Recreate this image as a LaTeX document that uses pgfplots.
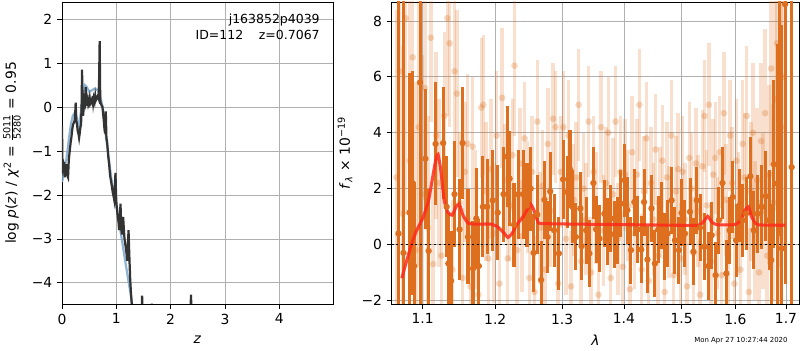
\documentclass[border=0pt]{standalone}
\usepackage{amsmath}
\usepackage{fontspec}
\setmainfont{DejaVu Sans}
\usepackage{pgfplots}
\pgfplotsset{compat=1.18}
\definecolor{dkor}{HTML}{DD6F1E}
\definecolor{redm}{HTML}{FF2A1A}
\definecolor{gridc}{HTML}{B0B0B0}
\definecolor{dline}{HTML}{333333}
\definecolor{bline}{HTML}{7DA7CB}
\pgfplotsset{mpl/.style={scale only axis, axis line style={line width=0.6pt}, tick align=outside,
  major tick length=3.5pt, tick style={black, line width=0.6pt}, xtick pos=left, ytick pos=left,
  grid=major, grid style={gridc, line width=0.6pt},
  tick label style={font=\fontsize{10}{12}\selectfont}, label style={font=\fontsize{10}{12}\selectfont}}}
\begin{document}
\begin{tikzpicture}
\useasboundingbox (0,0) rectangle (576pt,252pt);
\begin{axis}[mpl, at={(44.64pt,33.12pt)}, anchor=south west, width=195.12pt, height=217.44pt,
  xmin=0, xmax=4.99, ymin=-4.48, ymax=2.39,
  xtick={0,1,2,3,4}, xticklabels={0,1,2,3,4},
  ytick={-4,-3,-2,-1,0,1,2}, yticklabels={−4,−3,−2,−1,0,1,2},
  xlabel={\textit{z}}, xlabel style={at={(axis description cs:0.5,-0.119)}, anchor=center},
  ylabel={log \textit{p}(\textit{z}) / \textit{χ}\textsuperscript{2} = $\frac{\text{5011}}{\text{5280}}$ = 0.95},
  ylabel style={at={(axis description cs:-0.1845,0.5)}, anchor=center}]
\addplot[bline, line width=1.6pt, opacity=0.85] coordinates {
(0,-1.7) (0.02,-1.6) (0.05,-1.35) (0.08,-1.2) (0.11,-0.9) (0.14,-0.6) (0.17,-0.35) (0.2,-0.2) (0.25,-0.1) (0.28,-0.3) (0.31,-0.5) (0.34,-0.2) (0.38,0.3) (0.42,0.5) (0.46,0.45) (0.5,0.35) (0.55,0.38) (0.6,0.42) (0.66,0.38) (0.69,0.3) (0.72,0.15) (0.75,0.0) (0.78,-0.3) (0.8,-0.6) (0.84,-0.95) (0.87,-1.25) (0.9,-1.55) (0.93,-1.8) (0.97,-2.05) (1.0,-2.25) (1.04,-2.55) (1.08,-2.85) (1.12,-3.15) (1.15,-3.4) (1.19,-3.7) (1.23,-4.0) (1.27,-4.3) (1.3,-4.6) (1.4,-5.5) (5,-5.5)};
\addplot[dline, line width=1.6pt] coordinates {
(0,-0.44) (0.006,-1.1) (0.012,-1.5) (0.018,-1.2) (0.03,-1.45) (0.04,-1.25) (0.049,-1.6) (0.06,-1.3) (0.07,-1.5) (0.08,-1.3) (0.095,-1.55) (0.111,-1.6) (0.125,-1.2) (0.142,-1.0) (0.16,-0.8) (0.172,-0.7) (0.19,-0.5) (0.203,-0.4) (0.22,-0.35) (0.234,-0.3) (0.245,-0.1) (0.252,0.1) (0.262,-0.3) (0.277,-0.4) (0.29,-0.55) (0.302,-0.6) (0.315,-0.7) (0.326,-0.6) (0.34,-0.45) (0.351,-0.4) (0.362,0.1) (0.369,0.85) (0.378,0.2) (0.388,-0.2) (0.398,-0.05) (0.406,0.0) (0.415,0.15) (0.425,0.1) (0.437,0.45) (0.45,0.05) (0.462,0.05) (0.475,0.15) (0.485,0.05) (0.498,0.1) (0.51,0.2) (0.52,0.08) (0.542,0.15) (0.555,0.1) (0.565,0.25) (0.575,0.1) (0.585,0.2) (0.6,0.12) (0.612,0.25) (0.622,0.15) (0.64,0.2) (0.658,0.25) (0.672,0.2) (0.683,0.6) (0.6935,1.5) (0.703,0.3) (0.708,0.1) (0.725,0.05) (0.745,0.0) (0.757,-0.15) (0.769,-0.3) (0.782,-0.5) (0.794,-0.6) (0.806,-0.1) (0.818,-0.7) (0.831,-0.8) (0.85,-1.1) (0.868,-1.3) (0.885,-1.55) (0.905,-1.7) (0.918,-1.8) (0.929,-1.9) (0.945,-2.0) (0.96,-2.1) (0.972,-1.8) (0.985,-1.5) (0.995,-2.0) (1.003,-2.2) (1.015,-2.35) (1.028,-2.5) (1.04,-2.6) (1.052,-2.8) (1.065,-2.6) (1.077,-2.2) (1.09,-2.7) (1.102,-2.9) (1.115,-2.7) (1.126,-2.5) (1.14,-2.8) (1.151,-3.0) (1.163,-3.1) (1.175,-3.2) (1.19,-3.35) (1.2,-3.5) (1.212,-3.2) (1.225,-2.8) (1.235,-3.2) (1.243,-3.5) (1.255,-3.9) (1.268,-4.2) (1.28,-4.4) (1.292,-4.6) (1.3,-5) (1.46,-5) (1.475,-4.29) (1.49,-5) (1.64,-5) (1.652,-4.47) (1.664,-5) (2.36,-5) (2.375,-4.27) (2.392,-5) (5,-5)};
\node[anchor=east, font=\fontsize{9}{11}\selectfont, inner sep=0pt] at (rel axis cs:0.952,0.94) {j163852p4039};
\node[anchor=east, font=\fontsize{9}{11}\selectfont, inner sep=0pt] at (rel axis cs:0.952,0.89) {ID=112\hspace{1.25em}z=0.7067};
\end{axis}
\begin{axis}[mpl, at={(282.02pt,33.12pt)}, anchor=south west, width=293.47pt, height=217.44pt,
  xmode=log, xmin=1.06, xmax=1.7273, ymin=-2.13, ymax=8.68,
  xtick={1.1,1.2,1.3,1.4,1.5,1.6,1.7}, xticklabels={1.1,1.2,1.3,1.4,1.5,1.6,1.7},
  ytick={-2,0,2,4,6,8}, yticklabels={−2,0,2,4,6,8},
  xlabel={\textit{λ}}, xlabel style={at={(axis description cs:0.5,-0.119)}, anchor=center},
  ylabel={\textit{f}\textsubscript{\textit{λ}} × 10\textsuperscript{−19}},
  ylabel style={at={(axis description cs:-0.1146,0.5)}, anchor=center}]
% light (lower weight) spectrum
\addplot[only marks, mark=*, mark size=2.4pt, dkor, mark options={draw opacity=0, fill opacity=0.28},
  error bars/.cd, y dir=both, y explicit, error mark=none,
  error bar style={line width=2.5pt, dkor, opacity=0.22}]
  table[x=x, y=y, y error=e] {
x y e
1.066 2.4 6
1.070 6.2 5
1.074 1.1 6
1.078 8.1 7
1.083 3.0 6
1.087 6.7 5
1.091 -0.2 6
1.095 4.2 5
1.099 1.8 5
1.103 5.6 4
1.107 0.6 4
1.111 7.4 3
1.114 -0.7 3
1.118 3.9 3
1.122 2.2 3
1.125 -0.4 3
1.129 4.6 3
1.133 8.1 3.5
1.136 7.2 3
1.140 -0.9 2.5
1.143 6.2 3
1.146 5.4 3
1.150 1.5 2.5
1.154 -1.2 2.5
1.157 2.6 2.5
1.161 3.6 2.5
1.165 -1.5 2.5
1.168 3.5 2.5
1.172 0.9 2.5
1.176 -1.8 2.5
1.180 4.9 2.5
1.183 5.0 2.5
1.187 1.9 2.5
1.190 -0.5 2.5
1.194 2.7 2.5
1.198 0.4 2.5
1.202 3.9 2.3
1.206 -1.4 2
1.210 5.25 2.5
1.214 2.3 2
1.218 -0.5 2
1.221 1.4 2
1.225 3.2 2
1.228 6.4 2.5
1.232 -0.2 2
1.236 2.9 2
1.239 0.3 2
1.243 3.8 2
1.247 1.7 2
1.250 -1.2 2
1.254 2.6 2
1.258 -1.7 2
1.262 4.4 2.2
1.266 0.6 2
1.270 2.1 2
1.274 -0.9 2
1.278 3.6 2
1.282 1.2 2
1.286 4.5 2
1.290 4.2 2
1.294 -1.4 2
1.298 2.6 2
1.302 4.2 2
1.306 0.2 2
1.310 3.9 2
1.314 -1.5 2
1.318 1.6 2
1.322 2.4 2
1.326 5.0 2
1.330 -0.6 2
1.334 2.0 2
1.338 0.9 2
1.342 4.4 2
1.346 -1.0 2
1.350 2.6 2
1.354 1.3 2
1.358 -1.8 2
1.362 4.2 2
1.366 0.5 2
1.370 2.2 2
1.374 4.0 2
1.378 -1.2 2
1.382 1.8 2
1.386 4.4 2
1.390 0.2 2
1.394 2.6 2
1.398 -0.8 2
1.402 2.5 2
1.406 1.4 2
1.410 -1.6 2
1.414 3.3 2
1.418 0.4 2
1.422 2.5 2
1.426 5.0 2
1.430 -0.9 2
1.434 1.9 2
1.438 3.8 2
1.442 -1.3 2
1.446 2.2 2
1.450 0.9 2
1.454 3.4 2
1.458 -0.4 2
1.462 1.5 2
1.466 3.0 2
1.470 -1.7 2
1.474 2.4 2
1.478 0.8 2
1.482 3.9 2
1.486 -1.1 2
1.490 1.9 2
1.494 2.7 2
1.498 -0.5 2
1.502 2.6 2
1.506 0.9 2
1.510 -1.5 2
1.514 3.1 2
1.518 2.0 2
1.522 -0.3 2
1.526 2.9 2
1.530 1.2 2
1.534 -1.8 2
1.538 2.8 2
1.542 4.6 2
1.546 1.4 2
1.550 5.0 2.2
1.554 -0.6 2
1.558 2.5 2
1.562 3.1 2
1.566 0.4 2
1.570 3.3 2
1.574 -1.1 2
1.578 4.7 2.2
1.582 1.6 2
1.586 -0.4 2
1.590 3.9 2
1.594 2.2 2
1.598 -1.4 2
1.602 3.0 2.2
1.606 1.1 2.2
1.610 -0.9 2.2
1.614 3.6 2.3
1.618 2.4 2.3
1.622 4.6 2.5
1.626 -1.7 2.3
1.630 1.9 2.5
1.634 4.0 2.5
1.638 0.5 2.5
1.642 2.3 2.6
1.646 -1.0 2.6
1.650 3.7 2.8
1.654 1.2 2.8
1.658 4.7 3
1.662 -0.4 3
1.666 2.5 3.2
1.670 6.3 3.5
1.674 1.5 3.5
1.678 5.2 4
1.682 7.2 4.5
1.686 0.3 5
1.690 4.2 5
1.694 6.0 6
};
% dark spectrum
\addplot[only marks, mark=*, mark size=2.3pt, dkor, mark options={draw opacity=0},
  error bars/.cd, y dir=both, y explicit, error mark=none,
  error bar style={line width=2.2pt, dkor}]
  table[x=x, y=y, y error=e] {
x y e
1.0686 0.39 9
1.0751 -0.3 9
1.0828 1.14 5
1.0867 2.2 4
1.0888 -0.77 3
1.0966 5.8 9
1.1037 3.07 2.5
1.1079 -0.23 2.2
1.1172 3.6 2.2
1.1274 3.63 2
1.1321 1.35 1.8
1.1344 -0.68 1.8
1.1381 -1.3 1.8
1.1428 1.8 1.9
1.1498 0.54 1.8
1.1539 3.63 2
1.1614 0.27 1.7
1.1684 -0.86 1.7
1.1730 0.93 1.8
1.1767 -0.77 1.7
1.1823 1.35 1.8
1.1884 1.35 1.7
1.1963 1.58 1.8
1.2035 1.14 1.7
1.2119 1.8 1.7
1.2173 3.15 1.8
1.2208 2.36 1.7
1.2272 0.71 1.5
1.2332 1.8 1.6
1.2406 1.8 1.6
1.2465 1.4 1.5
1.2520 2.0 1.5
1.2564 -0.3 1.4
1.2619 1.07 1.4
1.2678 -1.27 1.4
1.2728 1.6 1.4
1.2777 0.27 1.3
1.2817 1.9 1.4
1.2876 0.51 1.3
1.2950 -0.32 1.3
1.3016 2.33 1.4
1.3081 1.88 1.3
1.3124 2.69 1.4
1.3162 1.35 1.3
1.3216 0.27 1.2
1.3287 1.29 1.3
1.3308 -0.06 1.2
1.3379 0.51 1.2
1.3432 -0.32 1.2
1.3497 2.2 1.3
1.3541 0.54 1.2
1.3595 0.21 1.2
1.3676 1.1 1.2
1.3730 0.45 1.2
1.3784 0.93 1.2
1.3838 0.37 1.2
1.3892 0.51 1.2
1.3946 1.46 1.2
1.4012 2.3 1.3
1.4059 1.23 1.2
1.4118 -0.2 1.2
1.4176 1.52 1.2
1.4235 0.54 1.2
1.4294 -0.18 1.2
1.4341 1.52 1.2
1.4400 -0.54 1.2
1.4470 1.29 1.2
1.4529 -0.68 1.2
1.4588 0.54 1.2
1.4647 1.05 1.2
1.4694 -0.08 1.2
1.4753 0.39 1.2
1.4823 1.58 1.2
1.4882 0.15 1.2
1.4953 -0.2 1.2
1.5000 1.13 1.2
1.5061 0.39 1.2
1.5153 1.17 1.2
1.5215 -0.26 1.2
1.5276 1.58 1.2
1.5337 0.6 1.2
1.5417 -0.08 1.2
1.5490 -0.77 1.2
1.5552 0.33 1.2
1.5625 -1.1 1.2
1.5686 0.87 1.2
1.5754 2.2 1.3
1.5827 -1.04 1.2
1.5889 0.51 1.2
1.5950 1.7 1.3
1.6013 0.15 1.3
1.6077 1.4 1.3
1.6142 0.87 1.3
1.6206 1.1 1.3
1.6290 2.44 1.4
1.6355 0.51 1.4
1.6432 1.1 1.4
1.6510 1.35 1.5
1.6594 1.73 1.6
1.6658 0.87 1.8
1.6703 -0.56 2
1.6755 2.87 3
1.6819 2.18 5
1.6871 6.29 6
1.6916 -0.14 8
1.6981 8.6 10
1.7116 2.77 10
};
\addplot[redm, line width=2.2pt, opacity=0.85, smooth, tension=0.3] coordinates {
(1.0729,-1.21) (1.0794,-0.56) (1.0858,0.04) (1.0923,0.51) (1.1009,0.99) (1.1079,1.58) (1.1126,2.3) (1.1172,3.0) (1.1205,3.23) (1.1242,2.65) (1.1288,1.58) (1.1335,1.17) (1.1395,1.05) (1.1451,1.35) (1.1493,1.46) (1.1544,1.05) (1.1614,0.77) (1.1707,0.73) (1.1940,0.73) (1.2035,0.63) (1.2134,0.39) (1.2183,0.25) (1.2243,0.39) (1.2307,0.69) (1.2406,0.99) (1.2480,1.29) (1.2520,1.44) (1.2569,1.23) (1.2629,0.81) (1.2678,0.75) (1.3189,0.73) (1.4882,0.69) (1.5307,0.69) (1.5398,0.81) (1.5478,1.01) (1.5552,0.81) (1.5644,0.71) (1.5981,0.71) (1.6110,0.87) (1.6187,1.23) (1.6252,1.35) (1.6316,0.99) (1.6432,0.71) (1.6987,0.69)};
\addplot[black, line width=1.4pt, dash pattern=on 1.4pt off 2pt] coordinates {(1.06,0) (1.7273,0)};
\end{axis}
\node[anchor=center, font=\fontsize{5}{6}\selectfont] at (533.5pt,7pt) {Mon Apr 27 10:27:44 2020};
\end{tikzpicture}
\end{document}
